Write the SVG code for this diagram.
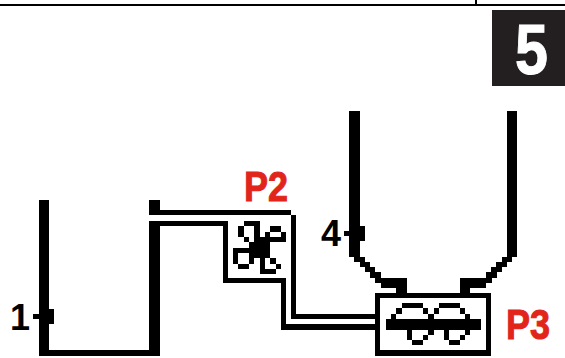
<svg xmlns="http://www.w3.org/2000/svg" width="565" height="358" viewBox="0 0 565 358">
<style>
.k{fill:#000;shape-rendering:crispEdges}
.r{font-family:"Liberation Sans",Arial,sans-serif;font-weight:700;font-size:42px;fill:#e1251b;stroke:#e1251b;stroke-width:1}
.n{font-family:"Liberation Sans",Arial,sans-serif;font-weight:700;font-size:36px;fill:#000}
</style>
<rect width="565" height="358" fill="#fff"/>
<g id="header">
<path class="k" d="M0 4H565V6H0ZM475 0H477V4H475Z"/>
</g>
<g id="step-5">
<rect x="492" y="10" width="73" height="76" fill="#231f20"/>
<text x="531.500" y="74" text-anchor="middle" font-family="Liberation Sans, Arial, sans-serif" font-weight="700" font-size="71" fill="#fff" stroke="#fff" textLength="33" lengthAdjust="spacingAndGlyphs">5</text>
</g>
<g id="connectors">
<path class="k" d="M39 200H49V350H149V221H160V356H39Z"/>
<path class="k" d="M149 200H160V210H291V215H296V314H376V319H291V215H149Z"/>
<path class="k" d="M149 221H228V278H286V324H376V330H281V283H223V226H149Z"/>
<path class="k" d="M349 111H360V257H365V262H370V267H375V272H381V278H407V293H396V288H381V283H375V278H370V272H365V267H360V262H354V257H349Z"/>
<path class="k" d="M507 111H517V257H512V262H507V267H502V272H497V278H492V283H486V288H470V293H460V278H486V272H491V267H496V262H502V257H507Z"/>
</g>
<g id="sensor-1">
<path class="k" d="M39 309H54V324H39ZM33 314H39V319H33Z"/>
<text class="n" x="10" y="330">1</text>
</g>
<g id="sensor-4">
<path class="k" d="M349 226H365V241H349ZM344 231H349V236H344Z"/>
<text class="n" x="321" y="246" font-size="34">4</text>
</g>
<g id="P2">
<path class="k" d="M244 221H260V226H244ZM238 226H244V237H238ZM254 226H260V237H254ZM270 226H281V232H270ZM265 232H270V237H265ZM281 232H286V237H281ZM244 237H249V242H244ZM254 237H286V242H254ZM249 242H270V248H249ZM233 248H270V253H233ZM233 253H238V264H233ZM249 253H270V258H249ZM249 258H254V264H249ZM260 258H265V269H260ZM270 258H276V264H270ZM238 264H249V269H238ZM276 264H281V269H276ZM260 269H276V274H260Z"/>
<text class="r" x="244" y="201" textLength="44" lengthAdjust="spacingAndGlyphs">P2</text>
</g>
<g id="P3">
<path class="k" d="M375 293H491V356H375ZM380 298V350H486V298Z" fill-rule="evenodd"/>
<path class="k" d="M386 319H481V330H386ZM402 303H423V308H402ZM439 303H460V308H439ZM396 308H402V314H396ZM423 308H428V314H423ZM434 308H439V314H434ZM460 308H465V314H460ZM391 314H396V319H391ZM428 314H434V319H428ZM465 314H470V319H465ZM407 330H412V340H407ZM428 330H434V335H428ZM444 330H449V340H444ZM465 330H470V335H465ZM423 335H428V340H423ZM460 335H465V340H460ZM412 340H423V345H412ZM449 340H460V345H449Z"/>
<text class="r" x="506" y="339" textLength="44" lengthAdjust="spacingAndGlyphs">P3</text>
</g>
</svg>
